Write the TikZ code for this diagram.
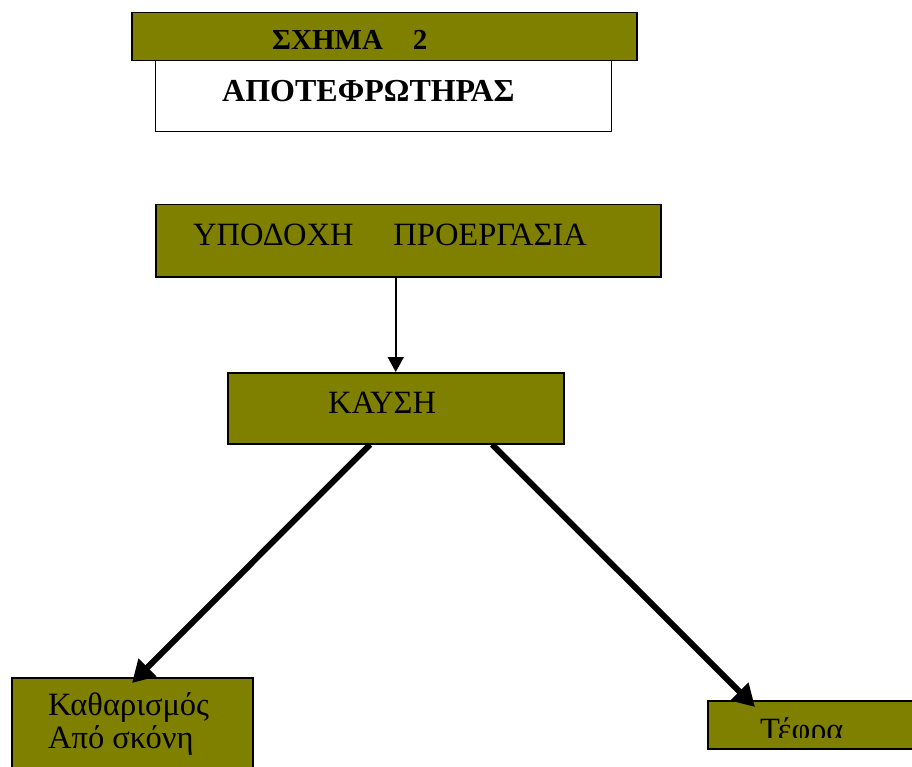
\documentclass[tikz,border=0pt]{standalone}
\usepackage{fontspec}
\setmainfont{Liberation Serif}
\usetikzlibrary{arrows.meta,calc}
\definecolor{olivebox}{HTML}{808000}
\begin{document}
\begin{tikzpicture}[x=1pt,y=-1pt,
  box/.style={draw=black,line width=1.5pt,fill=olivebox,inner sep=0pt,anchor=north west},
  whitebox/.style={draw=black,line width=1.2pt,fill=white,inner sep=0pt,anchor=north west},
  txt/.style={inner sep=0pt,anchor=base west,font=\fontsize{32.5}{33}\selectfont},
  thin arrow/.style={line width=1.6pt,-{Triangle[length=15pt,width=16pt]}},
  thick arrow/.style={line width=6pt,-{Triangle[length=22pt,width=24pt]}}]
\useasboundingbox (0,0) rectangle (912,767);
\clip (0,0) rectangle (912,767);
\fill[white] (0,0) rectangle (912,767);

% heading: white name plate under the olive title bar
\node[whitebox,minimum width=456pt,minimum height=71pt] (plate) at (155,60) {};
\node[box,minimum width=505pt,minimum height=48pt] (title) at (131,12) {};
\node[txt,font=\bfseries\fontsize{29}{30}\selectfont] (titletxt) at (272,50) {ΣΧΗΜΑ\hspace{30pt}2};
\node[txt,font=\bfseries\fontsize{32}{33}\selectfont] (platetxt) at (222,102) {ΑΠΟΤΕΦΡΩΤΗΡΑΣ};

% process boxes
\node[box,minimum width=505pt,minimum height=72pt] (prep) at (155,204) {};
\node[txt] (preptxt) at (193,245) {ΥΠΟΔΟΧΗ\hspace{40pt}ΠΡΟΕΡΓΑΣΙΑ};

\node[box,minimum width=336pt,minimum height=71pt] (burn) at (227,372) {};
\node[txt] (burntxt) at (328,413) {ΚΑΥΣΗ};

\node[box,minimum width=241pt,minimum height=110pt] (clean) at (11,677) {};
\node[txt] (cleantxt) at (48,715) {Καθαρισμός};
\node[txt] (cleantxtb) at (48,748) {Από σκόνη};

\node[box,minimum width=230pt,minimum height=48pt] (ash) at (707,700) {};
\begin{scope}
  \clip (707,700) rectangle (912,737);
  \node[txt] (ashtxt) at (760,740) {Τέφρα};
\end{scope}

% connectors
\draw[thin arrow] (prep.south -| burn.north) -- (burn.north);
\draw[thick arrow] ($(burn.south west)+(143,0)$) -- ($(clean.north west)+(121,6)$);
\draw[thick arrow] ($(burn.south west)+(265,0)$) -- ($(ash.north west)+(48,7)$);
\end{tikzpicture}
\end{document}
